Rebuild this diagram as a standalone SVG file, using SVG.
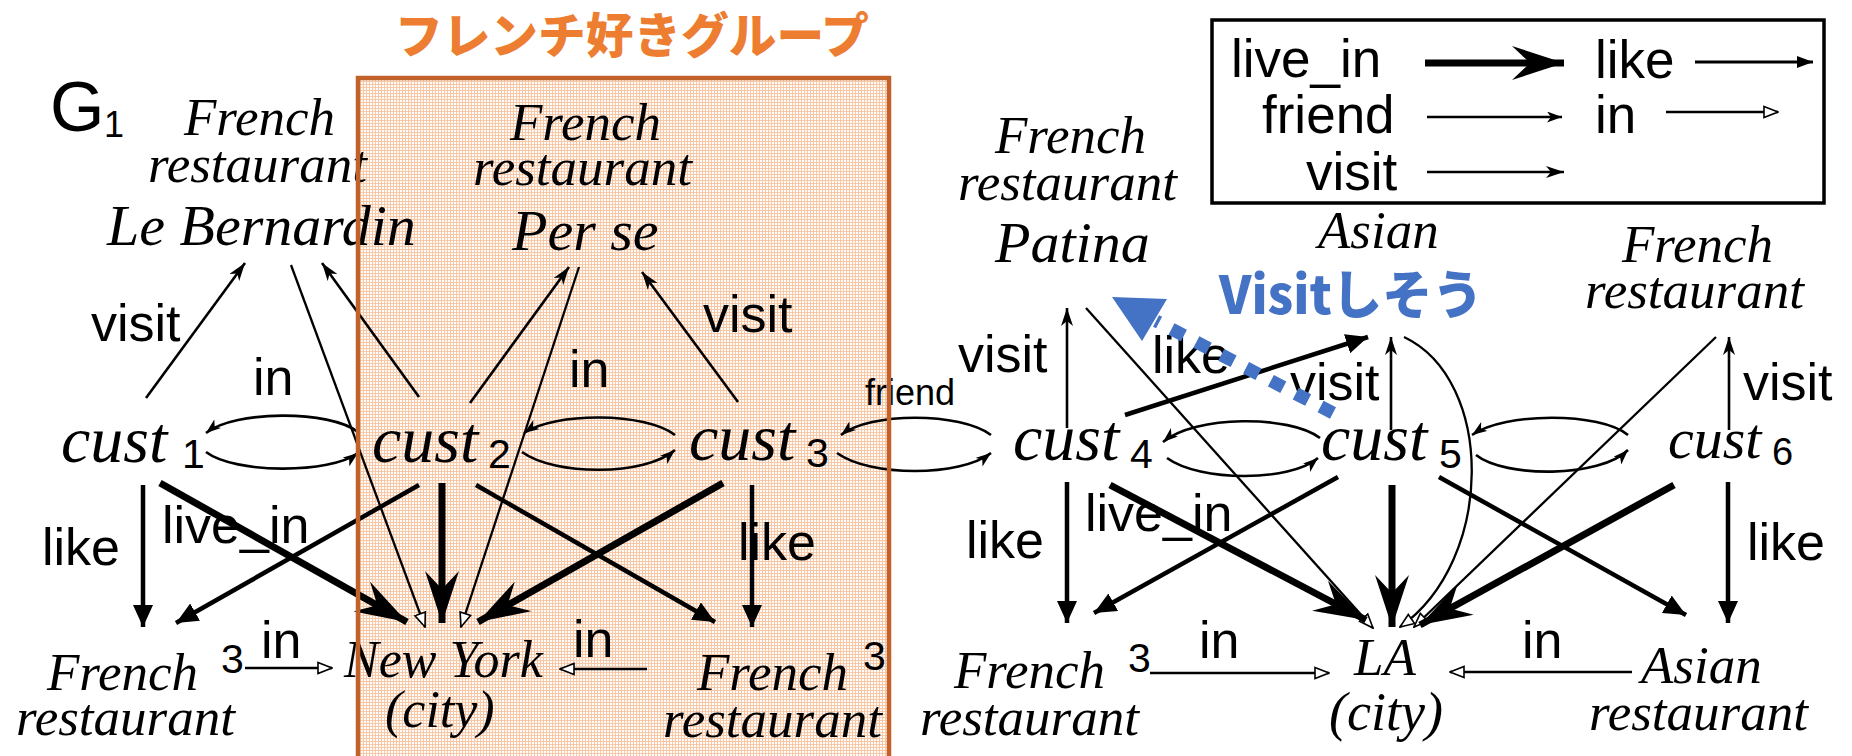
<svg xmlns="http://www.w3.org/2000/svg" width="1852" height="756" viewBox="0 0 1852 756">
<defs>
<style>
.serif{font-family:"Liberation Serif","Times New Roman",serif;font-style:italic;fill:#000}
.sans{font-family:"Liberation Sans",Arial,sans-serif;fill:#000}
.lbl{font-size:52px}
.fr{font-size:53px}
.nm{font-size:58px}
.cu{font-size:66px}
.sub{font-size:41px}
.e{fill:none;stroke:#000}
.visit{stroke-width:2.6;marker-end:url(#mVisit)}
.in{stroke-width:2.3;marker-end:url(#mIn)}
.like{stroke-width:4.5;marker-end:url(#mLike)}
.live{stroke-width:7;marker-end:url(#mLive)}
.friend{stroke-width:2.6;marker-end:url(#mFriend)}
</style>
<marker id="mVisit" markerUnits="userSpaceOnUse" viewBox="0 0 18 12" markerWidth="18" markerHeight="12" refX="18" refY="6" orient="auto"><path d="M0,0 L18,6 L0,12 L5,6 Z" fill="#000"/></marker>
<marker id="mFriend" markerUnits="userSpaceOnUse" viewBox="0 0 15 11" markerWidth="15" markerHeight="11" refX="15" refY="5.5" orient="auto"><path d="M0,0 L15,5.5 L0,11 L4,5.5 Z" fill="#000"/></marker>
<marker id="mLike" markerUnits="userSpaceOnUse" viewBox="0 0 22 20" markerWidth="22" markerHeight="20" refX="22" refY="10" orient="auto"><path d="M0,0 L22,10 L0,20 Z" fill="#000"/></marker>
<marker id="mLikeS" markerUnits="userSpaceOnUse" viewBox="0 0 16 12" markerWidth="16" markerHeight="12" refX="16" refY="6" orient="auto"><path d="M0,0 L16,6 L0,12 Z" fill="#000"/></marker>
<marker id="mLive" markerUnits="userSpaceOnUse" viewBox="0 0 52 34" markerWidth="52" markerHeight="34" refX="52" refY="17" orient="auto"><path d="M0,0 L52,17 L0,34 L18,17 Z" fill="#000"/></marker>
<marker id="mIn" markerUnits="userSpaceOnUse" viewBox="0 0 16 14" markerWidth="16" markerHeight="14" refX="15" refY="7" orient="auto"><path d="M1,1.5 L15,7 L1,12.5 Z" fill="#fff" stroke="#000" stroke-width="1.6"/></marker>
<pattern id="grid" width="3" height="3" patternUnits="userSpaceOnUse"><rect width="3" height="3" fill="#FFFCFA"/><path d="M0,0.5H3M0.5,0V3" stroke="#F8C8A6" stroke-width="1"/></pattern>
</defs>
<rect width="1852" height="756" fill="#fff"/>
<rect id="group-fill" x="358" y="78" width="531" height="700" fill="url(#grid)"/>

<g id="connectors">
<line class="e visit" x1="146" y1="398" x2="245" y2="263"/>
<line class="e in" x1="291" y1="265" x2="425" y2="627"/>
<line class="e visit" x1="419" y1="397" x2="322" y2="263"/>
<line class="e visit" x1="470" y1="403" x2="569" y2="267"/>
<line class="e in" x1="579" y1="267" x2="461" y2="627"/>
<line class="e visit" x1="738" y1="402" x2="642" y2="272"/>
<line class="e like" x1="143" y1="485" x2="143" y2="627"/>
<line class="e live" x1="160" y1="483" x2="407" y2="622"/>
<line class="e like" x1="419" y1="485" x2="176" y2="623"/>
<line class="e live" x1="442" y1="483" x2="442" y2="623"/>
<line class="e like" x1="476" y1="485" x2="715" y2="622"/>
<line class="e live" x1="723" y1="483" x2="478" y2="622"/>
<line class="e like" x1="752" y1="485" x2="752" y2="627"/>
<line class="e in" x1="245" y1="668" x2="332" y2="668"/>
<line class="e in" x1="647" y1="669" x2="560" y2="669"/>
<path class="e friend" d="M358,432 C330,410 235,410 206,433"/>
<path class="e friend" d="M206,452 C235,474 330,474 358,453"/>
<path class="e friend" d="M675,435 C645,412 555,412 524,433"/>
<path class="e friend" d="M522,452 C555,476 645,476 675,450"/>
<path class="e friend" d="M991,435 C960,412 870,412 841,435"/>
<path class="e friend" d="M837,453 C870,477 960,477 991,453"/>
<path class="e friend" d="M1320,438 C1290,415 1195,415 1163,442"/>
<path class="e friend" d="M1167,458 C1200,482 1290,482 1318,458"/>
<path class="e friend" d="M1628,435 C1600,412 1505,412 1472,435"/>
<path class="e friend" d="M1476,455 C1505,478 1600,478 1628,450"/>
<line class="e visit" x1="1067" y1="428" x2="1067" y2="308"/>
<line class="e in" x1="1086" y1="308" x2="1373" y2="628"/>
<line class="e like" x1="1125" y1="415" x2="1368" y2="337"/>
<line class="e visit" x1="1391" y1="430" x2="1391" y2="337"/>
<path class="e in" d="M1404,337 C1495,380 1495,560 1400,627"/>
<line class="e visit" x1="1729" y1="430" x2="1729" y2="337"/>
<line class="e in" x1="1716" y1="337" x2="1414" y2="627"/>
<line class="e like" x1="1067" y1="482" x2="1067" y2="623"/>
<line class="e live" x1="1110" y1="485" x2="1366" y2="620"/>
<line class="e like" x1="1338" y1="477" x2="1094" y2="613"/>
<line class="e live" x1="1392" y1="485" x2="1392" y2="627"/>
<line class="e like" x1="1439" y1="477" x2="1686" y2="615"/>
<line class="e live" x1="1674" y1="485" x2="1420" y2="625"/>
<line class="e like" x1="1728" y1="482" x2="1728" y2="623"/>
<line class="e in" x1="1150" y1="673" x2="1329" y2="673"/>
<line class="e in" x1="1632" y1="672" x2="1450" y2="672"/>
</g>

<g id="edge-labels" class="sans lbl">
<text x="91" y="341">visit</text>
<text x="253" y="395">in</text>
<text x="569" y="387">in</text>
<text x="703" y="332">visit</text>
<text x="865" y="405" style="font-size:36px">friend</text>
<text x="42" y="565">like</text>
<text x="162" y="543">live_in</text>
<text x="738" y="560">like</text>
<text x="261" y="658">in</text>
<text x="573" y="657">in</text>
<text x="958" y="372">visit</text>
<text x="1152" y="373">like</text>
<text x="1290" y="400">visit</text>
<text x="1743" y="400">visit</text>
<text x="966" y="558">like</text>
<text x="1085" y="531">live_in</text>
<text x="1747" y="560">like</text>
<text x="1199" y="658">in</text>
<text x="1522" y="658">in</text>
</g>

<g id="n-lebernardin" class="serif"><text class="fr" x="184" y="135">French</text><text class="fr" x="148" y="182">restaurant</text><text class="nm" x="107" y="245">Le Bernardin</text></g>
<g id="n-perse" class="serif"><text class="fr" x="510" y="140">French</text><text class="fr" x="473" y="185">restaurant</text><text class="nm" x="512" y="250">Per se</text></g>
<g id="n-patina" class="serif"><text class="fr" x="995" y="153">French</text><text class="fr" x="958" y="200">restaurant</text><text class="nm" x="995" y="262">Patina</text></g>
<g id="n-asian" class="serif"><text class="fr" x="1318" y="248">Asian</text></g>
<g id="n-french-tr" class="serif"><text class="fr" x="1622" y="262">French</text><text class="fr" x="1585" y="308">restaurant</text></g>

<g id="n-cust1"><text class="serif cu" x="61" y="462">cust</text><text class="sans sub" x="182" y="468">1</text></g>
<g id="n-cust2"><text class="serif cu" x="372" y="462">cust</text><text class="sans sub" x="488" y="468">2</text></g>
<g id="n-cust3"><text class="serif cu" x="689" y="460">cust</text><text class="sans sub" x="806" y="467">3</text></g>
<g id="n-cust4"><text class="serif cu" x="1013" y="460">cust</text><text class="sans sub" x="1130" y="468">4</text></g>
<g id="n-cust5"><text class="serif cu" x="1321" y="460">cust</text><text class="sans sub" x="1439" y="468">5</text></g>
<g id="n-cust6"><text class="serif" style="font-size:58px" x="1668" y="458">cust</text><text class="sans" style="font-size:38px" x="1772" y="465">6</text></g>

<g id="n-french3a"><text class="serif fr" x="47" y="690">French</text><text class="sans sub" x="221" y="673">3</text><text class="serif fr" x="16" y="735">restaurant</text></g>
<g id="n-newyork" class="serif"><text style="font-size:52px" x="344" y="677">New York</text><text style="font-size:52px" x="385" y="727">(city)</text></g>
<g id="n-french3b"><text class="serif fr" x="697" y="690">French</text><text class="sans sub" x="863" y="670">3</text><text class="serif fr" x="663" y="737">restaurant</text></g>
<g id="n-french3c"><text class="serif fr" x="954" y="688">French</text><text class="sans sub" x="1128" y="672">3</text><text class="serif fr" x="920" y="735">restaurant</text></g>
<g id="n-la" class="serif"><text style="font-size:53px" x="1354" y="675">LA</text><text style="font-size:54px" x="1329" y="730">(city)</text></g>
<g id="n-asian-rest" class="serif"><text class="fr" x="1641" y="683">Asian</text><text class="fr" x="1589" y="730">restaurant</text></g>

<g id="group-box">
<rect x="358" y="78" width="531" height="700" fill="none" stroke="#C0622A" stroke-width="4.5"/>
<text x="632" y="53" text-anchor="middle" textLength="474" lengthAdjust="spacingAndGlyphs" style="font-family:'Noto Sans CJK JP','Noto Sans CJK SC',sans-serif;font-weight:900;font-size:48px;fill:#ED7D31">フレンチ好きグループ</text>
</g>

<g id="g1-label" class="sans"><text x="50" y="131" style="font-size:70px">G</text><text x="104" y="137" style="font-size:36px">1</text></g>

<g id="legend">
<rect x="1212" y="20" width="612" height="183" fill="none" stroke="#000" stroke-width="3.5"/>
<g class="sans" style="font-size:53px">
<text x="1231" y="77">live_in</text>
<text x="1595" y="78">like</text>
<text x="1262" y="133">friend</text>
<text x="1595" y="133">in</text>
<text x="1306" y="190">visit</text>
</g>
<line class="e live" x1="1425" y1="63" x2="1564" y2="63"/>
<line class="e" stroke-width="3" marker-end="url(#mLikeS)" x1="1695" y1="62" x2="1813" y2="62"/>
<line class="e friend" x1="1427" y1="117" x2="1562" y2="117"/>
<line class="e in" x1="1666" y1="112" x2="1778" y2="112"/>
<line class="e visit" stroke-width="3.2" x1="1427" y1="172" x2="1564" y2="172"/>
</g>

<g id="suggestion">
<line x1="1333" y1="413" x2="1156" y2="321" stroke="#4472C4" stroke-width="13" stroke-dasharray="14 14"/>
<polygon points="1112,297 1167,299 1142,341" fill="#4472C4"/>
<text x="1219" y="314" textLength="264" lengthAdjust="spacingAndGlyphs" style="font-family:'Noto Sans CJK JP','Noto Sans CJK SC',sans-serif;font-weight:900;font-size:52px;fill:#4472C4">Visitしそう</text>
</g>
</svg>
